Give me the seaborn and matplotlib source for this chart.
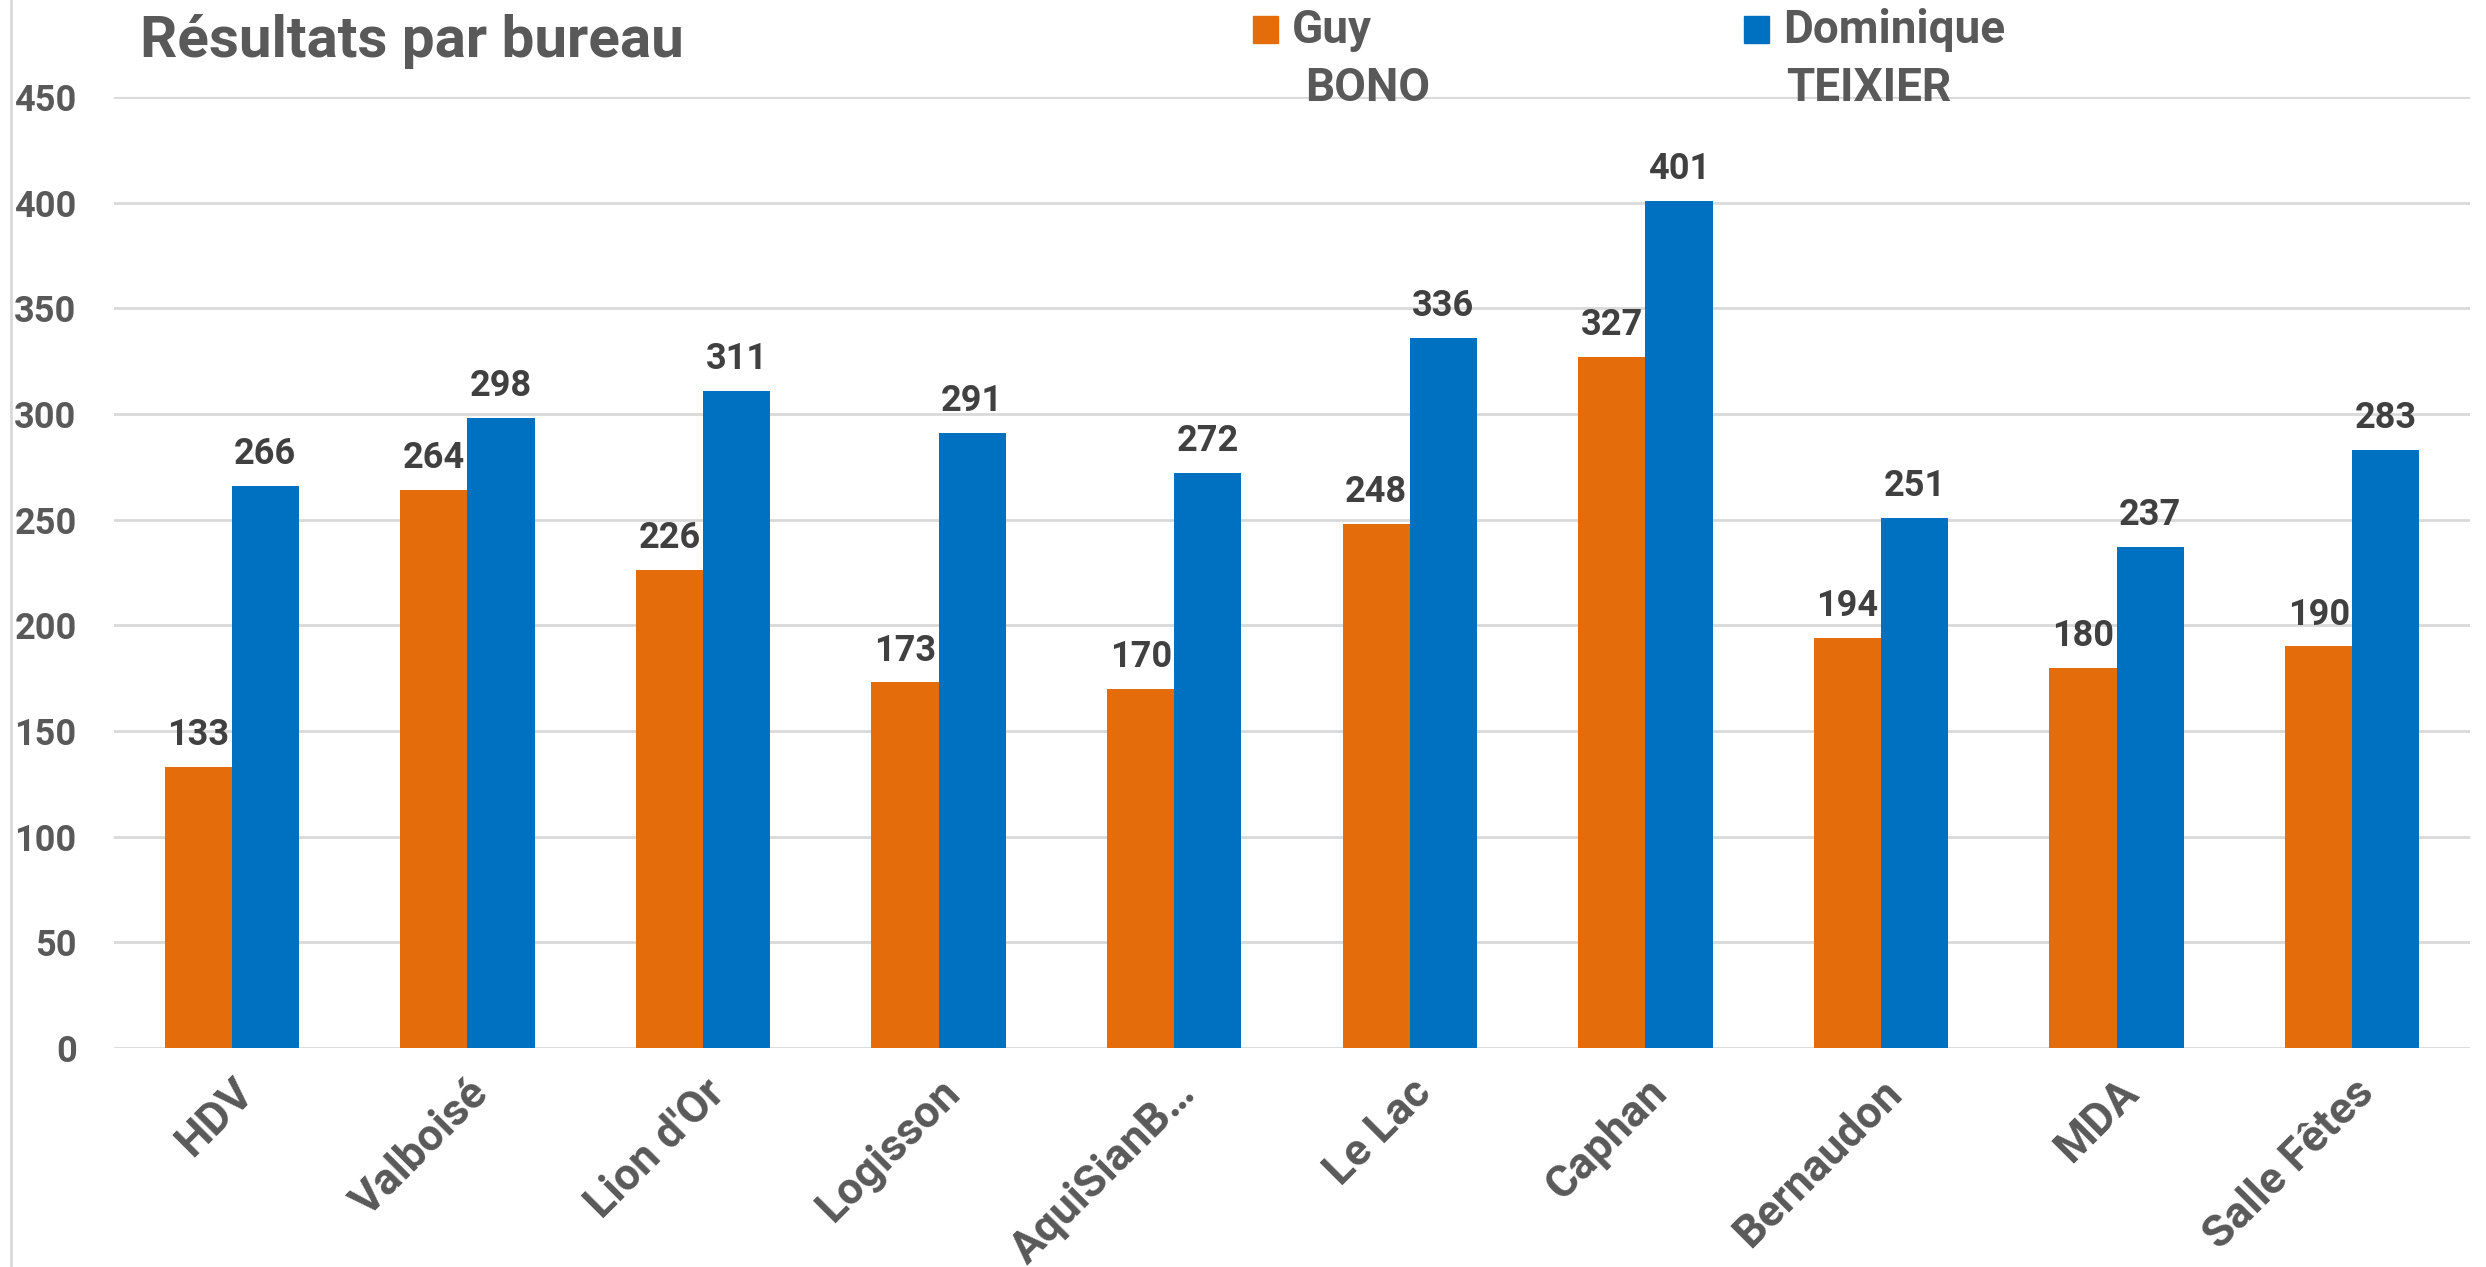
import pandas as pd
import seaborn as sns
import matplotlib.pyplot as plt
from matplotlib import font_manager
from matplotlib.patches import Rectangle
from matplotlib.lines import Line2D

# données
bureaux = ["HDV", "Valboisé", "Lion d'Or", "Logisson", "AquiSianB…",
           "Le Lac", "Caphan", "Bernaudon", "MDA", "Salle Fêtes"]
guy_bono = [133, 264, 226, 173, 170, 248, 327, 194, 180, 190]
dominique_teixier = [266, 298, 311, 291, 272, 336, 401, 251, 237, 283]
candidats = ["Guy BONO", "Dominique TEIXIER"]
couleurs = ["#E46C0A", "#0070C0"]
y_ticks = [0, 50, 100, 150, 200, 250, 300, 350, 400, 450]

W, H = 2486, 1267
GREY = "#595959"

df = pd.DataFrame({
    "bureau": bureaux * 2,
    "voix": guy_bono + dominique_teixier,
    "candidat": [candidats[0]] * len(bureaux) + [candidats[1]] * len(bureaux),
})

sns.set_theme(style="white")
installed = {f.name for f in font_manager.fontManager.ttflist}
family = [f for f in ["Liberation Sans Narrow", "Roboto", "DejaVu Sans"] if f in installed]
plt.rcParams["font.family"] = family + ["DejaVu Sans"]
plt.rcParams["font.weight"] = "bold"

fig = plt.figure(figsize=(W / 100, H / 100), dpi=100)
ax = fig.add_axes([114 / W, 1 - 1048 / H, (2470 - 114) / W, (1048 - 97) / H])

sns.barplot(data=df, x="bureau", y="voix", hue="candidat", order=bureaux,
            hue_order=candidats, palette=couleurs, saturation=1, width=0.57,
            linewidth=0, legend=False, ax=ax)

for c in ax.containers:
    ax.bar_label(c, padding=10, fontsize=26, color="#404040", fontweight="bold")

ax.set_xlim(-0.5, len(bureaux) - 0.5)
ax.set_ylim(0, 450)
ax.set_yticks(y_ticks)
ax.grid(axis="y", color="#D9D9D9", lw=2)
ax.set_axisbelow(True)
for s in ax.spines.values():
    s.set_visible(False)
ax.set_xlabel("")
ax.set_ylabel("")
ax.tick_params(axis="y", length=0, pad=27, labelsize=26, labelcolor=GREY)
ax.tick_params(axis="x", length=0, pad=17)
ax.set_xticks(range(len(bureaux)))
ax.set_xticklabels(bureaux, rotation=45, ha="right", va="top",
                   rotation_mode="anchor", fontsize=32, color=GREY)

fig.text(140 / W, 1 - 57 / H, "Résultats par bureau", fontsize=42,
         color=GREY, fontweight="bold", va="baseline")

# légende sur deux lignes (prénom / nom)
for name, color, x, dx in zip(candidats, couleurs, [1253, 1744], [13, 3]):
    first, rest = name.split(" ", 1)
    fig.add_artist(Rectangle((x / W, 1 - 43 / H), 25 / W, 27 / H,
                             transform=fig.transFigure, color=color))
    fig.text((x + 39) / W, 1 - 43 / H, first, fontsize=33, color=GREY,
             fontweight="bold", va="baseline")
    fig.text((x + 39 + dx) / W, 1 - 101 / H, rest, fontsize=33, color=GREY,
             fontweight="bold", va="baseline")

fig.add_artist(Line2D([11 / W, 11 / W], [0, 1], transform=fig.transFigure,
                      color="#D9D9D9", lw=2))

fig.savefig("out.png", dpi=100)
